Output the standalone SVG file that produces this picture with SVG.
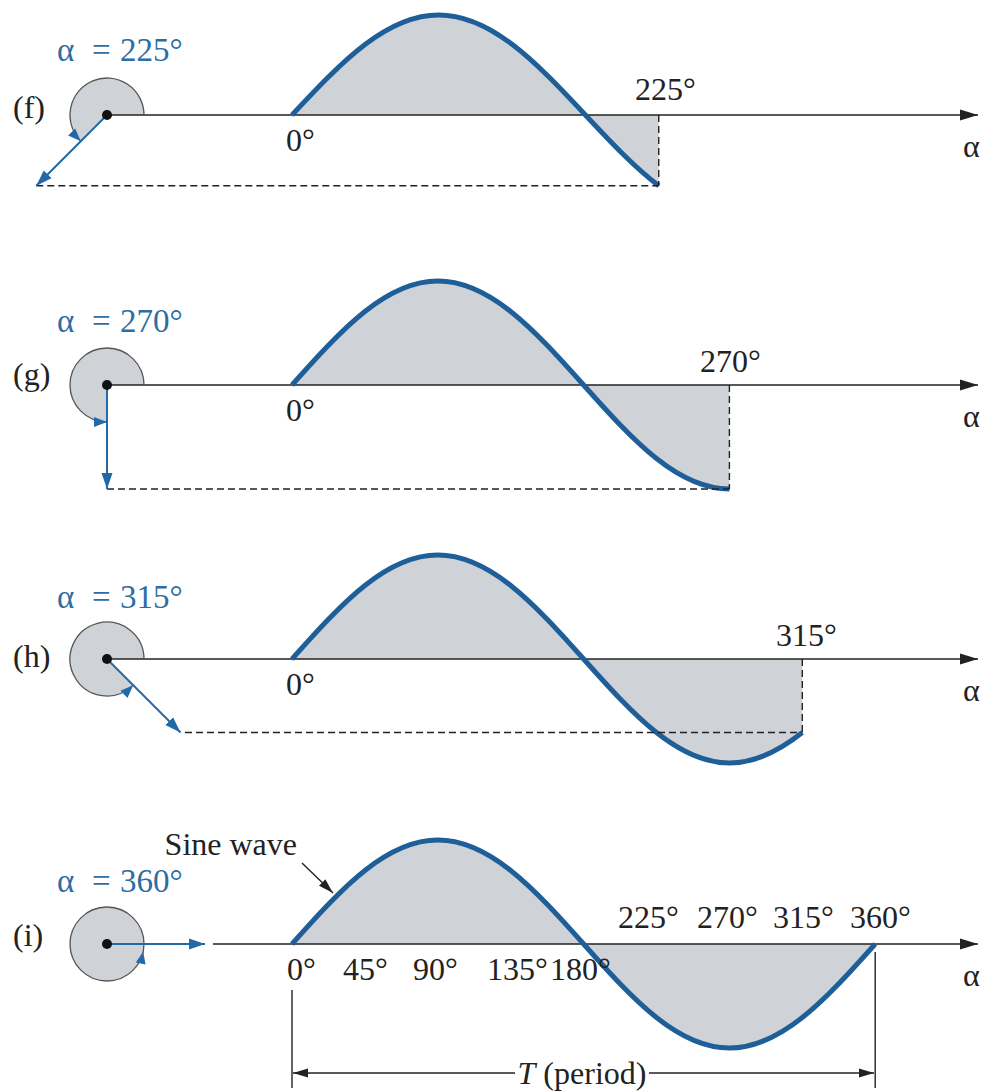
<svg xmlns="http://www.w3.org/2000/svg" width="1002" height="1092" viewBox="0 0 1002 1092">
<defs>
<style>
.lbl{font-family:"Liberation Serif","Times New Roman",serif;font-size:32px;fill:#222}
.blue{font-family:"Liberation Serif","Times New Roman",serif;font-size:33px;fill:#2e6da4}
.shade{fill:#cfd2d6;stroke:none}
.wave{fill:none;stroke:#1f5f99;stroke-width:5;vector-effect:non-scaling-stroke;stroke-linejoin:round}
.axis{stroke:#222;stroke-width:1.6;fill:none;marker-end:url(#axArrow)}
.dash{stroke:#222;stroke-width:1.4;stroke-dasharray:7 4;fill:none}
.sector{fill:#cfd2d6;stroke:none}
.arc{fill:none;stroke:#555;stroke-width:1.3;marker-end:url(#arcArrow)}
.phasor{stroke:#2369a8;stroke-width:2;fill:none;marker-end:url(#pArrow)}
.thin{stroke:#222;stroke-width:1.4;fill:none}
</style>
<marker id="axArrow" markerUnits="userSpaceOnUse" markerWidth="18" markerHeight="12" viewBox="0 0 18 12" refX="18" refY="6" orient="auto"><path d="M0,0.5 L18,6 L0,11.5 Z" fill="#222"/></marker>
<marker id="pArrow" markerUnits="userSpaceOnUse" markerWidth="16" markerHeight="12" viewBox="0 0 16 12" refX="16" refY="6" orient="auto"><path d="M0,0.5 L16,6 L0,11.5 Z" fill="#2369a8"/></marker>
<marker id="arcArrow" markerUnits="userSpaceOnUse" markerWidth="13" markerHeight="11" viewBox="0 0 13 11" refX="13" refY="5.5" orient="auto"><path d="M0,0.5 L13,5.5 L0,10.5 Z" fill="#2369a8"/></marker>
<marker id="kArrow" markerUnits="userSpaceOnUse" markerWidth="15" markerHeight="10" viewBox="0 0 15 10" refX="15" refY="5" orient="auto-start-reverse"><path d="M0,0.5 L15,5 L0,9.5 Z" fill="#222"/></marker>
</defs>

<!-- Panel f -->
<g id="panel-f">
<g transform="translate(292,115) scale(1.63,-1)">
<path class="shade" d="M0,0 C15,26.18 30,52.2 45,70.71 C60,89.22 75,100 90,100 C105,100 120,89.22 135,70.71 C150,52.2 165,26.18 180,0 C195,-26.18 210,-52.2 225,-70.71 L225,0 Z"/>
</g>
<path class="sector" d="M107,115 L144,115 A37,37 0 1 0 80.84,141.16 Z"/>
<path class="axis" d="M107,115 L978,115"/>
<g transform="translate(292,115) scale(1.63,-1)">
<path class="wave" d="M0,0 C15,26.18 30,52.2 45,70.71 C60,89.22 75,100 90,100 C105,100 120,89.22 135,70.71 C150,52.2 165,26.18 180,0 C195,-26.18 210,-52.2 225,-70.71"/>
</g>
<path class="dash" d="M36.3,185.7 L658.75,185.7 M658.75,115 L658.75,185.7"/>
<path class="arc" d="M144,115 A37,37 0 1 0 80.84,141.16"/>
<path class="phasor" d="M107,115 L36.3,185.7"/>
<circle cx="107" cy="115" r="5" fill="#111"/>
<text class="blue" x="57" y="61">α</text><text class="blue" x="92" y="61">=</text><text class="blue" x="120" y="61">225°</text>
<text class="lbl" x="13" y="118">(f)</text>
<text class="lbl" x="286" y="151">0°</text>
<text class="lbl" x="635" y="100">225°</text>
<text class="lbl" x="963" y="157">α</text>
</g>

<!-- Panel g -->
<g id="panel-g">
<g transform="translate(292,385) scale(1.62,-1.04)">
<path class="shade" d="M0,0 C15,26.18 30,52.2 45,70.71 C60,89.22 75,100 90,100 C105,100 120,89.22 135,70.71 C150,52.2 165,26.18 180,0 C195,-26.18 210,-52.2 225,-70.71 C240,-89.22 255,-100 270,-100 L270,0 Z"/>
</g>
<path class="sector" d="M107,385 L144,385 A37,37 0 1 0 107,422 Z"/>
<path class="axis" d="M107,385 L978,385"/>
<g transform="translate(292,385) scale(1.62,-1.04)">
<path class="wave" d="M0,0 C15,26.18 30,52.2 45,70.71 C60,89.22 75,100 90,100 C105,100 120,89.22 135,70.71 C150,52.2 165,26.18 180,0 C195,-26.18 210,-52.2 225,-70.71 C240,-89.22 255,-100 270,-100"/>
</g>
<path class="dash" d="M107,489 L729.4,489 M729.4,385 L729.4,489"/>
<path class="arc" d="M144,385 A37,37 0 1 0 107,422"/>
<path class="phasor" d="M107,385 L107,489"/>
<circle cx="107" cy="385" r="5" fill="#111"/>
<text class="blue" x="57" y="332">α</text><text class="blue" x="92" y="332">=</text><text class="blue" x="120" y="332">270°</text>
<text class="lbl" x="13" y="385">(g)</text>
<text class="lbl" x="286" y="421">0°</text>
<text class="lbl" x="700" y="372">270°</text>
<text class="lbl" x="963" y="427">α</text>
</g>

<!-- Panel h -->
<g id="panel-h">
<g transform="translate(292,659) scale(1.62,-1.04)">
<path class="shade" d="M0,0 C15,26.18 30,52.2 45,70.71 C60,89.22 75,100 90,100 C105,100 120,89.22 135,70.71 C150,52.2 165,26.18 180,0 C195,-26.18 210,-52.2 225,-70.71 C240,-89.22 255,-100 270,-100 C285,-100 300,-89.22 315,-70.71 L315,0 Z"/>
</g>
<path class="sector" d="M107,659 L144,659 A37,37 0 1 0 133.16,685.16 Z"/>
<path class="axis" d="M107,659 L978,659"/>
<g transform="translate(292,659) scale(1.62,-1.04)">
<path class="wave" d="M0,0 C15,26.18 30,52.2 45,70.71 C60,89.22 75,100 90,100 C105,100 120,89.22 135,70.71 C150,52.2 165,26.18 180,0 C195,-26.18 210,-52.2 225,-70.71 C240,-89.22 255,-100 270,-100 C285,-100 300,-89.22 315,-70.71"/>
</g>
<path class="dash" d="M185,732.5 L802.3,732.5 M802.3,659 L802.3,732.5"/>
<path class="arc" d="M144,659 A37,37 0 1 0 133.16,685.16"/>
<path class="phasor" d="M107,659 L180.5,732.5"/>
<circle cx="107" cy="659" r="5" fill="#111"/>
<text class="blue" x="57" y="608">α</text><text class="blue" x="92" y="608">=</text><text class="blue" x="120" y="608">315°</text>
<text class="lbl" x="13" y="667">(h)</text>
<text class="lbl" x="286" y="695">0°</text>
<text class="lbl" x="776" y="646">315°</text>
<text class="lbl" x="963" y="701">α</text>
</g>

<!-- Panel i -->
<g id="panel-i">
<g transform="translate(292,944) scale(1.62,-1.04)">
<path class="shade" d="M0,0 C15,26.18 30,52.2 45,70.71 C60,89.22 75,100 90,100 C105,100 120,89.22 135,70.71 C150,52.2 165,26.18 180,0 C195,-26.18 210,-52.2 225,-70.71 C240,-89.22 255,-100 270,-100 C285,-100 300,-89.22 315,-70.71 C330,-52.2 345,-26.18 360,0 Z"/>
</g>
<circle cx="107" cy="944" r="37" fill="#cfd2d6" stroke="#555" stroke-width="1.3"/>
<polygon points="143.2,951.7 145.6,964.4 135.8,962.4" fill="#2369a8"/>
<path class="axis" d="M213,944 L978,944"/>
<g transform="translate(292,944) scale(1.62,-1.04)">
<path class="wave" d="M0,0 C15,26.18 30,52.2 45,70.71 C60,89.22 75,100 90,100 C105,100 120,89.22 135,70.71 C150,52.2 165,26.18 180,0 C195,-26.18 210,-52.2 225,-70.71 C240,-89.22 255,-100 270,-100 C285,-100 300,-89.22 315,-70.71 C330,-52.2 345,-26.18 360,0"/>
</g>
<path class="phasor" d="M107,944 L205,944"/>
<circle cx="107" cy="944" r="5" fill="#111"/>
<text class="blue" x="57" y="892">α</text><text class="blue" x="92" y="892">=</text><text class="blue" x="120" y="892">360°</text>
<text class="lbl" x="13" y="946">(i)</text>
<text class="lbl" x="297" y="855" text-anchor="end">Sine wave</text>
<text class="lbl" x="287" y="980">0°</text>
<text class="lbl" x="343" y="980">45°</text>
<text class="lbl" x="413" y="980">90°</text>
<text class="lbl" x="487" y="980">135°</text>
<text class="lbl" x="550" y="980">180°</text>
<text class="lbl" x="618" y="928">225°</text>
<text class="lbl" x="697" y="928">270°</text>
<text class="lbl" x="773" y="928">315°</text>
<text class="lbl" x="850" y="928">360°</text>
<text class="lbl" x="963" y="986">α</text>
<text class="lbl" x="582" y="1084" text-anchor="middle"><tspan font-style="italic">T</tspan> (period)</text>
</g>

<g id="connectors">
<path class="thin" d="M302,863 L333,893" marker-end="url(#kArrow)"/>
<path class="thin" d="M292,990 L292,1088 M875.2,952 L875.2,1088"/>
<path class="thin" d="M515,1073 L293,1073" marker-end="url(#kArrow)"/>
<path class="thin" d="M649,1073 L874,1073" marker-end="url(#kArrow)"/>
</g>
</svg>
